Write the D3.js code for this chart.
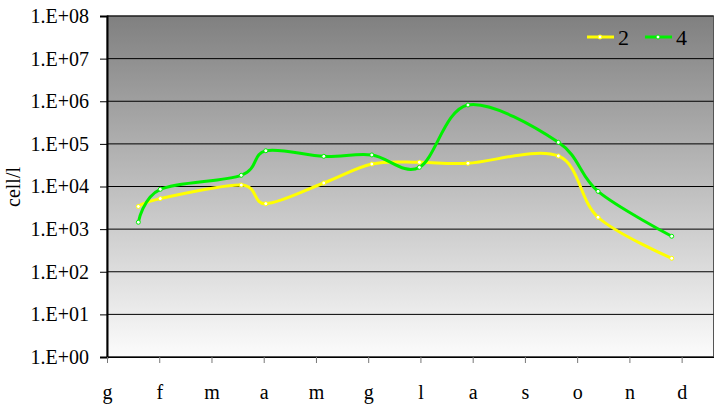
<!DOCTYPE html>
<html>
<head>
<meta charset="utf-8">
<script src="https://d3js.org/d3.v7.min.js"></script>
<style>
  body { margin: 0; background: #fff; }
</style>
</head>
<body>
<div id="chart"></div>
<script>
// month labels on the x axis (one tick per month)
const months = ["g", "f", "m", "a", "m", "g", "l", "a", "s", "o", "n", "d"];
// sampling dates, in months from the first tick
const sampleMonth = [0.6, 1.02, 2.57, 3.04, 4.15, 5.07, 5.98, 6.91, 8.64, 9.4, 10.81];
// cell/l per station
const series2 = [3400, 5200, 10800, 3950, 12100, 33700, 37000, 35000, 52000, 1900, 207];
const series4 = [1450, 8600, 18300, 69000, 51000, 55000, 28200, 817000, 109000, 7700, 680];
const seriesNames = ["2", "4"];
const yTicks = [1, 1e1, 1e2, 1e3, 1e4, 1e5, 1e6, 1e7, 1e8];

const width = 718, height = 408;
const margin = {top: 16, right: 4.5, bottom: 51, left: 107};
const iw = width - margin.left - margin.right;
const ih = height - margin.top - margin.bottom;
const serif = "'Liberation Serif', 'Times New Roman', 'DejaVu Serif', serif";

const svg = d3.select("#chart").append("svg")
    .attr("width", width).attr("height", height)
    .attr("font-family", serif);

const defs = svg.append("defs");
const grad = defs.append("linearGradient")
    .attr("id", "bg").attr("x1", 0).attr("y1", 0).attr("x2", 0).attr("y2", 1);
grad.append("stop").attr("offset", "0%").attr("stop-color", "#808080");
grad.append("stop").attr("offset", "100%").attr("stop-color", "#fcfcfc");

const g = svg.append("g").attr("transform", `translate(${margin.left},${margin.top})`);

let x = d3.scaleLinear().domain([0, 11.61]).range([0, iw]);
let y = d3.scaleLog().domain([1, 1e8]).range([ih, 0]);

g.append("rect")
    .attr("width", iw).attr("height", ih)
    .attr("fill", "url(#bg)")
    .attr("stroke", "#555").attr("stroke-width", 1);

// gridlines
g.append("g").selectAll("line")
    .data(yTicks)
    .join("line")
    .attr("x1", 0).attr("x2", iw)
    .attr("y1", d => y(d)).attr("y2", d => y(d))
    .attr("stroke", "#000").attr("stroke-width", 1);

const fmt = d => "1.E+" + String(Math.round(Math.log10(d))).padStart(2, "0");

const yAxis = g.append("g")
    .call(d3.axisLeft(y).tickValues(yTicks).tickFormat(fmt).tickSize(7).tickPadding(11))
    .attr("font-family", serif).attr("font-size", 20);
yAxis.select(".domain").attr("stroke", "#000").attr("stroke-width", 2);
yAxis.selectAll("text").attr("fill", "#000");

const xAxis = g.append("g")
    .attr("transform", `translate(0,${ih})`)
    .call(d3.axisBottom(x).tickValues(d3.range(months.length))
        .tickFormat(i => months[i]).tickSize(6).tickPadding(22).tickSizeOuter(0))
    .attr("font-family", serif).attr("font-size", 20);
xAxis.select(".domain").attr("stroke", "#000").attr("stroke-width", 1);
xAxis.selectAll(".tick line").attr("stroke", "#777");
xAxis.selectAll("text").attr("fill", "#000");

svg.append("text")
    .attr("transform", `translate(20,187) rotate(-90)`)
    .attr("text-anchor", "middle")
    .attr("font-size", 20)
    .text("cell/l");

const line = d3.line()
    .x((d, i) => x(sampleMonth[i]))
    .y(d => y(d))
    .curve(d3.curveCardinal.tension(0));

const colors = ["#ffff00", "#00f000"];
[series2, series4].forEach((s, k) => {
    g.append("path")
        .attr("d", line(s))
        .attr("fill", "none")
        .attr("stroke", colors[k])
        .attr("stroke-width", 3);
    g.append("g").selectAll("circle")
        .data(s)
        .join("circle")
        .attr("cx", (d, i) => x(sampleMonth[i]))
        .attr("cy", d => y(d))
        .attr("r", 2)
        .attr("fill", "#fff")
        .attr("stroke", colors[k])
        .attr("stroke-width", 1);
});

// legend
const legend = svg.append("g").attr("transform", "translate(587,37)");
seriesNames.forEach((name, k) => {
    const lg = legend.append("g").attr("transform", `translate(${k * 58},0)`);
    lg.append("line").attr("x1", 0).attr("x2", 27)
        .attr("stroke", colors[k]).attr("stroke-width", 3);
    lg.append("circle").attr("cx", 13).attr("r", 2)
        .attr("fill", "#fff").attr("stroke", colors[k]);
    lg.append("text").attr("x", 31).attr("dy", "0.35em")
        .attr("font-size", 22).text(name);
});
</script>
</body>
</html>
